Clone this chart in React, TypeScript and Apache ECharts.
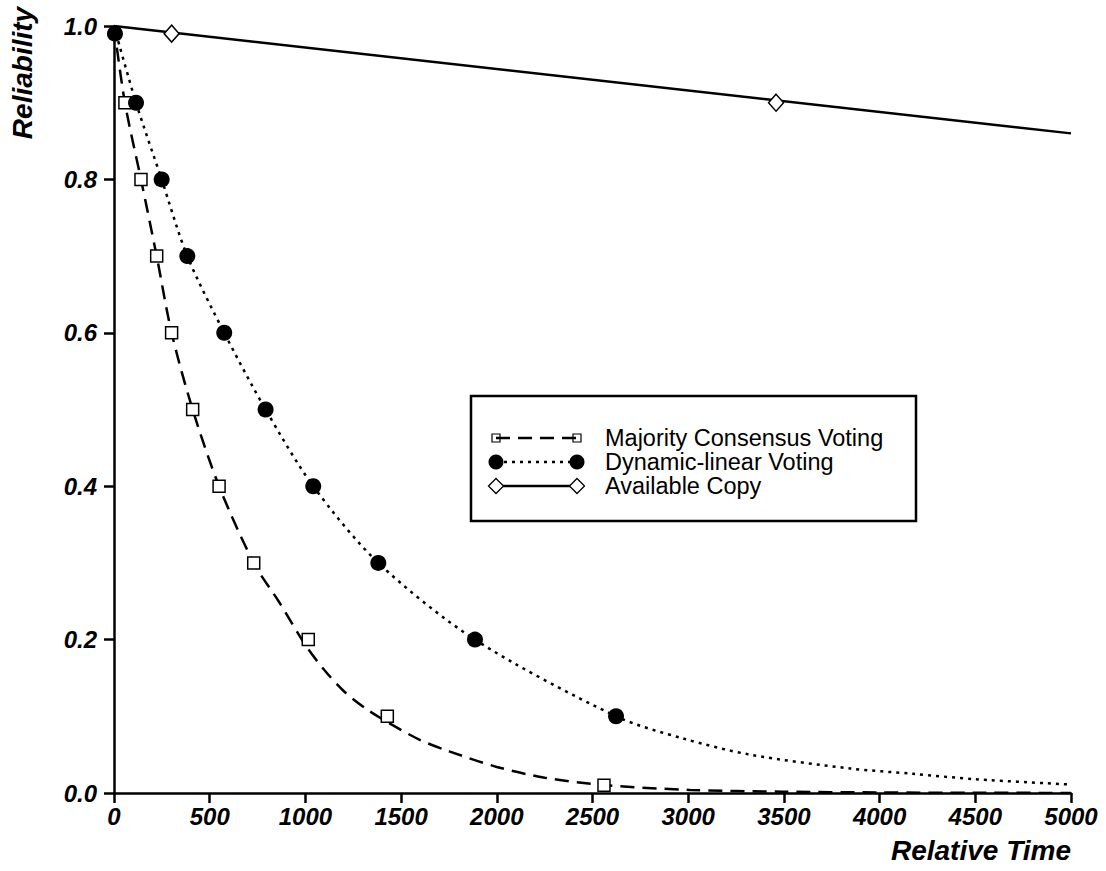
import React, { useEffect, useRef } from "react";
import * as echarts from "echarts";

// Tick labels
const xTicks = [0, 500, 1000, 1500, 2000, 2500, 3000, 3500, 4000, 4500, 5000];
const yTicks = [0.0, 0.2, 0.4, 0.6, 0.8, 1.0];

// Series names
const seriesNames = ["Majority Consensus Voting", "Dynamic-linear Voting", "Available Copy"];

// Curve points: [relative time, reliability]
const majorityCurve: number[][] = [
  [0, 1.0], [57, 0.9], [141, 0.8], [223, 0.7], [301, 0.6], [411, 0.5], [549, 0.4],
  [730, 0.3], [860, 0.25], [1000, 0.193], [1100, 0.16], [1200, 0.133], [1310, 0.111],
  [1425, 0.093], [1600, 0.069], [1755, 0.054], [2000, 0.034], [2250, 0.02],
  [2560, 0.0104], [3009, 0.004], [3495, 0.0017], [4000, 0.0007], [4500, 0.0003], [5000, 0.0001],
];
const dynamicCurve: number[][] = [
  [0, 1.0], [115, 0.9], [249, 0.8], [383, 0.7], [576, 0.6], [792, 0.5], [1041, 0.4],
  [1381, 0.3], [1886, 0.2], [2623, 0.1], [2974, 0.071], [3323, 0.05], [3845, 0.032],
  [4175, 0.025], [4500, 0.018], [5000, 0.011],
];
const availableCurve: number[][] = [[0, 1.0], [5000, 0.86]];

// Marker points
const majorityMarks: number[][] = [
  [57, 0.9], [141, 0.8], [223, 0.7], [301, 0.6], [411, 0.5], [549, 0.4], [730, 0.3],
  [1015, 0.2], [1428, 0.1], [2560, 0.01],
];
const dynamicMarks: number[][] = [
  [5, 0.99], [115, 0.9], [249, 0.8], [383, 0.7], [576, 0.6], [792, 0.5], [1041, 0.4],
  [1381, 0.3], [1886, 0.2], [2623, 0.1],
];
const availableMarks: number[][] = [[301, 0.99], [3459, 0.9]];

const FONT = "'Liberation Sans', Arial, sans-serif";

export default function App() {
  const ref = useRef<HTMLDivElement>(null);

  useEffect(() => {
    if (!ref.current) return;
    const chart = echarts.init(ref.current, undefined, { renderer: "svg" });

    const lgX0 = 496;
    const lgX1 = 577;
    const rows = [438, 462, 486];
    const lgTextX = 605;

    const legendGraphics: any[] = [
      {
        type: "rect",
        shape: { x: 471, y: 396, width: 445, height: 125 },
        style: { fill: "#fff", stroke: "#000", lineWidth: 2.5 },
        z: 100,
      },
      // row 1: dashed with small squares
      {
        type: "line",
        shape: { x1: lgX0, y1: rows[0], x2: lgX1, y2: rows[0] },
        style: { stroke: "#000", lineWidth: 2.5, lineDash: [14, 8] },
        z: 101,
      },
      {
        type: "rect",
        shape: { x: lgX0 - 4, y: rows[0] - 4, width: 8, height: 8 },
        style: { fill: "none", stroke: "#000", lineWidth: 1.2 },
        z: 102,
      },
      {
        type: "rect",
        shape: { x: lgX1 - 4, y: rows[0] - 4, width: 8, height: 8 },
        style: { fill: "none", stroke: "#000", lineWidth: 1.2 },
        z: 102,
      },
      // row 2: dotted with filled circles
      {
        type: "line",
        shape: { x1: lgX0, y1: rows[1], x2: lgX1, y2: rows[1] },
        style: { stroke: "#000", lineWidth: 2.5, lineDash: [3, 5] },
        z: 101,
      },
      { type: "circle", shape: { cx: lgX0, cy: rows[1], r: 7.5 }, style: { fill: "#000" }, z: 102 },
      { type: "circle", shape: { cx: lgX1, cy: rows[1], r: 7.5 }, style: { fill: "#000" }, z: 102 },
      // row 3: solid with diamonds
      {
        type: "line",
        shape: { x1: lgX0, y1: rows[2], x2: lgX1, y2: rows[2] },
        style: { stroke: "#000", lineWidth: 2.5 },
        z: 101,
      },
      {
        type: "polygon",
        shape: { points: [[lgX0, rows[2] - 7.5], [lgX0 + 7.5, rows[2]], [lgX0, rows[2] + 7.5], [lgX0 - 7.5, rows[2]]] },
        style: { fill: "#fff", stroke: "#000", lineWidth: 1.3 },
        z: 102,
      },
      {
        type: "polygon",
        shape: { points: [[lgX1, rows[2] - 7.5], [lgX1 + 7.5, rows[2]], [lgX1, rows[2] + 7.5], [lgX1 - 7.5, rows[2]]] },
        style: { fill: "#fff", stroke: "#000", lineWidth: 1.3 },
        z: 102,
      },
      ...seriesNames.map((n, i) => ({
        type: "text",
        x: lgTextX,
        y: rows[i],
        style: { text: n, font: `23.5px ${FONT}`, fill: "#000", align: "left", verticalAlign: "middle" },
        z: 102,
      })),
      // Y axis title
      {
        type: "text",
        x: 22,
        y: 73,
        rotation: Math.PI / 2,
        style: {
          text: "Reliability",
          font: `italic bold 28px ${FONT}`,
          fill: "#000",
          align: "center",
          verticalAlign: "middle",
        },
      },
    ];

    const axisCommon = {
      axisLine: { show: true, onZero: false, lineStyle: { color: "#000", width: 2.5 } },
      axisTick: { show: true, inside: false, length: 10, lineStyle: { color: "#000", width: 2.5 } },
      splitLine: { show: false },
    };

    const labelStyle = {
      color: "#000",
      fontFamily: FONT,
      fontStyle: "italic",
      fontWeight: "bold",
      fontSize: 24,
    };

    chart.setOption({
      animation: false,
      backgroundColor: "#fff",
      grid: { left: 114, right: 35, top: 26, bottom: 78, containLabel: false },
      xAxis: {
        type: "value",
        min: xTicks[0],
        max: xTicks[xTicks.length - 1],
        interval: 500,
        ...axisCommon,
        axisLabel: { ...labelStyle, margin: 11, formatter: (v: number) => String(v) },
        name: "Relative Time",
        nameLocation: "end",
        nameGap: 0,
        nameTextStyle: {
          color: "#000",
          fontFamily: FONT,
          fontStyle: "italic",
          fontWeight: "bold",
          fontSize: 28,
          align: "right",
          verticalAlign: "top",
          padding: [43, 0, 0, 0],
        },
      },
      yAxis: {
        type: "value",
        min: yTicks[0],
        max: yTicks[yTicks.length - 1],
        interval: 0.2,
        ...axisCommon,
        axisLabel: { ...labelStyle, margin: 17, formatter: (v: number) => v.toFixed(1) },
      },
      series: [
        {
          name: seriesNames[0] + " curve",
          type: "line",
          data: majorityCurve,
          smooth: 0.3,
          showSymbol: false,
          symbol: "none",
          lineStyle: { color: "#000", width: 2.5, type: [14, 8], opacity: 1 },
          z: 3,
        },
        {
          name: seriesNames[1] + " curve",
          type: "line",
          data: dynamicCurve,
          smooth: 0.3,
          showSymbol: false,
          symbol: "none",
          lineStyle: { color: "#000", width: 2.5, type: [3, 5], opacity: 1 },
          z: 3,
        },
        {
          name: seriesNames[2] + " curve",
          type: "line",
          data: availableCurve,
          showSymbol: false,
          symbol: "none",
          lineStyle: { color: "#000", width: 2.5, opacity: 1 },
          z: 3,
        },
        {
          name: seriesNames[0],
          type: "scatter",
          data: majorityMarks,
          symbol: "rect",
          symbolSize: 12,
          itemStyle: { color: "#fff", borderColor: "#000", borderWidth: 1.5, opacity: 1 },
          z: 5,
        },
        {
          name: seriesNames[1],
          type: "scatter",
          data: dynamicMarks,
          symbol: "circle",
          symbolSize: 16,
          itemStyle: { color: "#000", opacity: 1 },
          z: 6,
        },
        {
          name: seriesNames[2],
          type: "scatter",
          data: availableMarks,
          symbol: "diamond",
          symbolSize: [15, 17],
          itemStyle: { color: "#fff", borderColor: "#000", borderWidth: 1.5, opacity: 1 },
          z: 5,
        },
      ],
      graphic: legendGraphics,
    });

    return () => chart.dispose();
  }, []);

  return (
    <div
      ref={ref}
      style={{ position: "fixed", left: 0, top: 0, width: 1106, height: 871, background: "#fff" }}
    />
  );
}
